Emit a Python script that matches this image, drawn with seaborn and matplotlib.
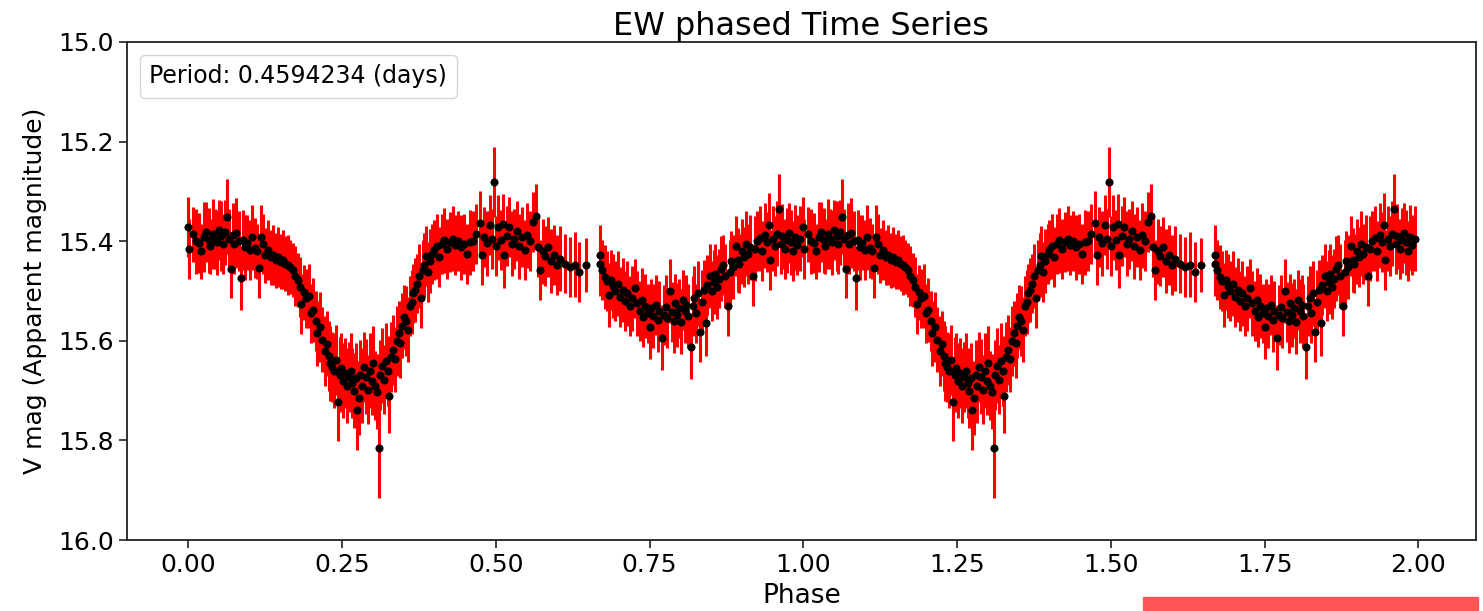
import numpy as np
import pandas as pd
import matplotlib
matplotlib.use("Agg")
import matplotlib.pyplot as plt
import seaborn as sns
from matplotlib.patches import Rectangle

# phase-folded light curve (one cycle)
phase = [0.000, 0.001, 0.007, 0.012, 0.018, 0.020, 0.025, 0.029, 0.033, 0.036,
         0.040, 0.044, 0.047, 0.050, 0.054, 0.057, 0.060, 0.063, 0.066, 0.069,
         0.072, 0.075, 0.078, 0.082, 0.086, 0.089, 0.092, 0.096, 0.100, 0.104,
         0.108, 0.112, 0.115, 0.118, 0.121, 0.125, 0.130, 0.134, 0.138, 0.142,
         0.146, 0.150, 0.154, 0.158, 0.162, 0.166, 0.170, 0.174, 0.178, 0.182,
         0.184, 0.188, 0.192, 0.196, 0.199, 0.203, 0.207, 0.210, 0.214, 0.218,
         0.222, 0.225, 0.228, 0.231, 0.234, 0.237, 0.240, 0.243, 0.246, 0.249,
         0.252, 0.255, 0.258, 0.261, 0.264, 0.267, 0.270, 0.273, 0.275, 0.277,
         0.280, 0.283, 0.286, 0.289, 0.292, 0.295, 0.298, 0.301, 0.304, 0.307,
         0.310, 0.312, 0.315, 0.318, 0.321, 0.324, 0.327, 0.330, 0.333, 0.336,
         0.339, 0.342, 0.345, 0.348, 0.351, 0.354, 0.357, 0.360, 0.363, 0.366,
         0.369, 0.372, 0.375, 0.378, 0.381, 0.384, 0.387, 0.390, 0.393, 0.397,
         0.400, 0.404, 0.408, 0.412, 0.416, 0.420, 0.425, 0.430, 0.434, 0.438,
         0.443, 0.448, 0.453, 0.458, 0.463, 0.468, 0.474, 0.477, 0.481, 0.486,
         0.490, 0.494, 0.497, 0.500, 0.504, 0.508, 0.511, 0.514, 0.518, 0.522,
         0.526, 0.530, 0.534, 0.538, 0.542, 0.547, 0.551, 0.556, 0.560, 0.565,
         0.568, 0.572, 0.576, 0.580, 0.585, 0.590, 0.595, 0.600, 0.605, 0.612,
         0.620, 0.628, 0.636, 0.647, 0.669, 0.670, 0.673, 0.677, 0.680, 0.684,
         0.687, 0.690, 0.694, 0.698, 0.702, 0.706, 0.710, 0.714, 0.718, 0.722,
         0.726, 0.730, 0.734, 0.737, 0.740, 0.743, 0.747, 0.750, 0.753, 0.756,
         0.760, 0.763, 0.766, 0.770, 0.773, 0.776, 0.779, 0.783, 0.786, 0.789,
         0.792, 0.795, 0.798, 0.801, 0.804, 0.807, 0.810, 0.813, 0.817, 0.820,
         0.823, 0.826, 0.829, 0.832, 0.835, 0.838, 0.841, 0.844, 0.848, 0.851,
         0.854, 0.857, 0.860, 0.863, 0.866, 0.870, 0.873, 0.877, 0.880, 0.883,
         0.886, 0.890, 0.893, 0.896, 0.900, 0.903, 0.907, 0.910, 0.914, 0.918,
         0.921, 0.925, 0.929, 0.933, 0.937, 0.941, 0.944, 0.946, 0.950, 0.954,
         0.957, 0.960, 0.963, 0.966, 0.970, 0.973, 0.976, 0.980, 0.983, 0.987,
         0.990, 0.994]

vmag = [15.371, 15.416, 15.386, 15.400, 15.404, 15.420, 15.392, 15.381, 15.398, 15.410,
        15.386, 15.395, 15.402, 15.378, 15.389, 15.405, 15.382, 15.351, 15.395, 15.455,
        15.388, 15.405, 15.383, 15.400, 15.474, 15.398, 15.412, 15.403, 15.418, 15.392,
        15.414, 15.420, 15.454, 15.392, 15.405, 15.428, 15.418, 15.432, 15.427, 15.438,
        15.431, 15.441, 15.437, 15.445, 15.448, 15.452, 15.458, 15.470, 15.478, 15.492,
        15.526, 15.503, 15.515, 15.510, 15.545, 15.538, 15.560, 15.585, 15.572, 15.598,
        15.620, 15.606, 15.630, 15.645, 15.652, 15.660, 15.638, 15.722, 15.668, 15.655,
        15.680, 15.665, 15.690, 15.672, 15.660, 15.685, 15.700, 15.675, 15.739, 15.715,
        15.668, 15.690, 15.652, 15.672, 15.698, 15.660, 15.680, 15.645, 15.690, 15.702,
        15.815, 15.668, 15.650, 15.678, 15.640, 15.660, 15.710, 15.632, 15.618, 15.637,
        15.600, 15.585, 15.605, 15.570, 15.552, 15.560, 15.578, 15.530, 15.522, 15.505,
        15.498, 15.485, 15.470, 15.515, 15.458, 15.448, 15.430, 15.462, 15.440, 15.425,
        15.418, 15.410, 15.432, 15.405, 15.398, 15.415, 15.402, 15.395, 15.408, 15.400,
        15.412, 15.405, 15.425, 15.402, 15.400, 15.385, 15.364, 15.428, 15.392, 15.404,
        15.368, 15.395, 15.281, 15.410, 15.372, 15.398, 15.365, 15.428, 15.390, 15.372,
        15.405, 15.395, 15.380, 15.410, 15.392, 15.418, 15.388, 15.400, 15.362, 15.350,
        15.412, 15.458, 15.420, 15.430, 15.412, 15.440, 15.428, 15.448, 15.435, 15.445,
        15.452, 15.447, 15.462, 15.448, 15.428, 15.446, 15.458, 15.472, 15.480, 15.508,
        15.478, 15.490, 15.500, 15.485, 15.512, 15.498, 15.520, 15.505, 15.530, 15.515,
        15.495, 15.525, 15.540, 15.518, 15.552, 15.530, 15.545, 15.572, 15.535, 15.550,
        15.528, 15.558, 15.540, 15.594, 15.548, 15.532, 15.555, 15.500, 15.542, 15.560,
        15.525, 15.548, 15.535, 15.562, 15.518, 15.540, 15.528, 15.550, 15.612, 15.530,
        15.515, 15.545, 15.505, 15.583, 15.522, 15.498, 15.565, 15.488, 15.470, 15.500,
        15.482, 15.465, 15.492, 15.475, 15.455, 15.448, 15.470, 15.530, 15.462, 15.440,
        15.452, 15.410, 15.438, 15.445, 15.420, 15.432, 15.405, 15.425, 15.412, 15.470,
        15.415, 15.400, 15.394, 15.420, 15.388, 15.402, 15.368, 15.438, 15.395, 15.410,
        15.385, 15.335, 15.405, 15.390, 15.415, 15.398, 15.384, 15.402, 15.420, 15.392,
        15.408, 15.395]

verr = [0.060, 0.060, 0.055, 0.065, 0.060, 0.055, 0.070, 0.060, 0.065, 0.055,
        0.070, 0.060, 0.065, 0.060, 0.070, 0.060, 0.065, 0.075, 0.060, 0.060,
        0.065, 0.060, 0.070, 0.060, 0.065, 0.060, 0.065, 0.055, 0.060, 0.065,
        0.060, 0.055, 0.060, 0.065, 0.060, 0.055, 0.060, 0.055, 0.060, 0.055,
        0.060, 0.055, 0.060, 0.055, 0.060, 0.055, 0.055, 0.060, 0.055, 0.060,
        0.060, 0.055, 0.060, 0.065, 0.060, 0.065, 0.060, 0.065, 0.070, 0.065,
        0.070, 0.065, 0.070, 0.075, 0.070, 0.075, 0.070, 0.080, 0.075, 0.070,
        0.075, 0.070, 0.075, 0.070, 0.075, 0.070, 0.075, 0.070, 0.080, 0.075,
        0.070, 0.075, 0.070, 0.075, 0.070, 0.075, 0.070, 0.075, 0.070, 0.075,
        0.100, 0.070, 0.075, 0.070, 0.075, 0.070, 0.075, 0.070, 0.070, 0.065,
        0.070, 0.065, 0.070, 0.065, 0.065, 0.070, 0.065, 0.060, 0.065, 0.060,
        0.065, 0.060, 0.065, 0.060, 0.060, 0.065, 0.060, 0.060, 0.065, 0.060,
        0.060, 0.065, 0.060, 0.060, 0.065, 0.060, 0.060, 0.065, 0.060, 0.060,
        0.065, 0.060, 0.060, 0.065, 0.060, 0.060, 0.065, 0.060, 0.060, 0.065,
        0.060, 0.060, 0.070, 0.060, 0.065, 0.060, 0.060, 0.065, 0.060, 0.060,
        0.065, 0.060, 0.060, 0.065, 0.060, 0.060, 0.065, 0.060, 0.060, 0.065,
        0.060, 0.060, 0.065, 0.060, 0.060, 0.065, 0.060, 0.060, 0.065, 0.060,
        0.060, 0.065, 0.060, 0.055, 0.060, 0.065, 0.060, 0.065, 0.060, 0.065,
        0.060, 0.065, 0.060, 0.065, 0.060, 0.065, 0.060, 0.065, 0.060, 0.065,
        0.060, 0.065, 0.060, 0.065, 0.060, 0.065, 0.060, 0.065, 0.060, 0.065,
        0.060, 0.065, 0.060, 0.065, 0.060, 0.065, 0.060, 0.065, 0.060, 0.065,
        0.060, 0.065, 0.060, 0.065, 0.060, 0.065, 0.060, 0.065, 0.065, 0.060,
        0.065, 0.060, 0.065, 0.060, 0.065, 0.060, 0.065, 0.060, 0.065, 0.060,
        0.065, 0.060, 0.065, 0.060, 0.065, 0.060, 0.065, 0.060, 0.065, 0.060,
        0.065, 0.060, 0.065, 0.060, 0.065, 0.060, 0.065, 0.060, 0.065, 0.060,
        0.065, 0.060, 0.065, 0.060, 0.065, 0.060, 0.065, 0.060, 0.065, 0.060,
        0.065, 0.070, 0.060, 0.065, 0.060, 0.065, 0.060, 0.065, 0.060, 0.065,
        0.060, 0.065]

period = 0.4594234

# show two cycles
df = pd.DataFrame({"phase": phase, "mag": vmag, "err": verr})
df = pd.concat([df, df.assign(phase=df["phase"] + 1)], ignore_index=True)

sns.set_style("ticks")
plt.rcParams["font.family"] = ["DejaVu Sans"]
plt.rcParams.update({"text.color": "black", "axes.labelcolor": "black",
                     "xtick.color": "black", "ytick.color": "black"})

fig = plt.figure(figsize=(14.83, 6.11), dpi=100)
ax = fig.add_axes([0.0856, 0.1162, 0.9097, 0.8151])

ax.errorbar(df["phase"], df["mag"], yerr=df["err"], fmt="none",
            ecolor="red", elinewidth=2.2, zorder=2)
sns.scatterplot(data=df, x="phase", y="mag", color="black", s=34,
                edgecolor="black", linewidth=0, ax=ax, zorder=3)
ax.plot([], [], " ", label="Period: %.7f (days)" % period)

ax.set_ylim(16.0, 15.0)
ax.set_xticks(np.arange(0, 2.01, 0.25))
ax.set_yticks(np.arange(15.0, 16.01, 0.2))
ax.set_title("EW phased Time Series", fontsize=23, pad=3)
ax.set_xlabel("Phase", fontsize=19, labelpad=4)
ax.set_ylabel("V mag (Apparent magnitude)", fontsize=18, labelpad=8)
ax.tick_params(labelsize=18, length=6, width=1.2, color="#222222")
for sp in ax.spines.values():
    sp.set_color("#222222")
    sp.set_linewidth(1.3)
ax.legend(loc="upper left", handlelength=0, handletextpad=0,
          fontsize=17, borderpad=0.4, borderaxespad=0.55)

fig.patches.append(Rectangle((0.7707, 0.0), 0.2259, 0.023, color="#ff5555",
                             transform=fig.transFigure, figure=fig))

fig.savefig("out.png", dpi=100)
